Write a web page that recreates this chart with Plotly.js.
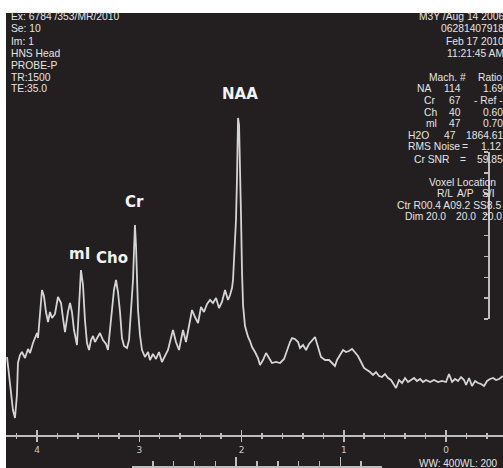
<!DOCTYPE html>
<html><head><meta charset="utf-8">
<script src="https://cdn.plot.ly/plotly-3.0.1.min.js"></script>
<style>html,body{margin:0;padding:0;background:#fff;}#chart{width:503px;height:468px;}</style>
</head><body><div id="chart"></div>
<script>
// Spectrum: chemical shift (ppm) and signal height (a.u.)
const ppm = [
4.293, 4.264, 4.235, 4.215, 4.196, 4.186, 4.166, 4.147, 4.117, 4.088,
4.068, 4.039, 4.020, 4.000, 3.990, 3.971, 3.951, 3.932, 3.912, 3.892,
3.873, 3.853, 3.824, 3.795, 3.765, 3.746, 3.726, 3.697, 3.677, 3.658,
3.638, 3.609, 3.589, 3.570, 3.550, 3.531, 3.511, 3.491, 3.472, 3.452,
3.433, 3.413, 3.384, 3.355, 3.325, 3.306, 3.276, 3.247, 3.227, 3.208,
3.188, 3.169, 3.149, 3.120, 3.100, 3.081, 3.061, 3.051, 3.042, 3.032,
3.022, 3.012, 2.993, 2.973, 2.944, 2.914, 2.895, 2.866, 2.836, 2.807,
2.778, 2.748, 2.719, 2.690, 2.670, 2.641, 2.611, 2.592, 2.572, 2.543,
2.513, 2.484, 2.455, 2.425, 2.396, 2.367, 2.337, 2.308, 2.279, 2.249,
2.220, 2.191, 2.161, 2.132, 2.112, 2.093, 2.083, 2.073, 2.064, 2.054,
2.044, 2.034, 2.024, 2.015, 2.005, 1.995, 1.985, 1.966, 1.936, 1.917,
1.897, 1.868, 1.839, 1.819, 1.790, 1.760, 1.731, 1.702, 1.663, 1.623,
1.584, 1.555, 1.526, 1.506, 1.477, 1.447, 1.428, 1.398, 1.369, 1.340,
1.311, 1.281, 1.252, 1.223, 1.183, 1.144, 1.115, 1.086, 1.066, 1.037,
1.007, 0.978, 0.949, 0.919, 0.890, 0.861, 0.831, 0.802, 0.773, 0.743,
0.714, 0.685, 0.655, 0.626, 0.597, 0.567, 0.538, 0.509, 0.489, 0.460,
0.430, 0.401, 0.372, 0.342, 0.313, 0.284, 0.254, 0.225, 0.196, 0.156,
0.117, 0.078, 0.039, 0.000, -0.029, -0.059, -0.088, -0.117, -0.147, -0.176,
-0.196, -0.225, -0.254, -0.284, -0.313, -0.342, -0.372, -0.401, -0.430, -0.460,
-0.489, -0.518, -0.557
];
const intensity = [
78, 50, 25, 17, 40, 72, 80, 83, 77, 86,
82, 92, 97, 102, 97, 120, 145, 139, 123, 113,
123, 117, 121, 138, 132, 117, 103, 123, 132, 123,
105, 90, 135, 165, 150, 115, 92, 85, 95, 99,
93, 97, 102, 95, 91, 85, 115, 145, 155, 143,
123, 97, 89, 87, 95, 120, 155, 185, 210, 190,
150, 125, 100, 85, 78, 83, 75, 81, 76, 83,
73, 79, 85, 97, 105, 93, 85, 95, 105, 93,
110, 125, 118, 112, 128, 123, 131, 135, 132, 137,
127, 133, 145, 135, 140, 147, 155, 173, 190, 215,
257, 317, 310, 275, 220, 163, 130, 109, 98, 94,
88, 83, 77, 70, 75, 82, 77, 72, 73, 72,
76, 85, 93, 97, 96, 93, 87, 90, 85, 91,
94, 98, 88, 78, 75, 75, 72, 69, 75, 80,
85, 83, 84, 86, 83, 79, 73, 67, 65, 63,
60, 63, 59, 58, 61, 57, 55, 51, 47, 55,
52, 57, 53, 55, 57, 54, 56, 53, 55, 53,
55, 53, 54, 53, 61, 53, 56, 54, 58, 55,
50, 57, 49, 54, 52, 51, 49, 54, 56, 57,
55, 56, 59
];
const peakLabels = ['mI', 'Cho', 'Cr', 'NAA'];
const peakLabelPpm = [3.589, 3.266, 3.042, 2.015];
const peakLabelHeight = [181, 177, 233, 341];
const ppmTicks = [4, 3, 2, 1, 0];
const headerLeft = ['Ex: 6784 /353/MR/2010', 'Se: 10', 'Im: 1', 'HNS Head', 'PROBE-P', 'TR:1500', 'TE:35.0'];
const headerRight = ['M3Y /Aug 14 2006', '06281407918', 'Feb 17 2010', '11:21:45 AM'];
const metabNames = ['NA', 'Cr', 'Ch', 'ml', 'H2O'];
const machValues = ['114', '67', '40', '47', '47'];
const ratioValues = ['1.69', '- Ref -', '0.60', '0.70', '1864.61'];
const voxelHead = ['R/L', 'A/P', 'S/I'];
const voxelDim = ['20.0', '20.0', '20.0'];

// ---- layout helpers (pixel -> paper) ----
const W = 503, H = 468, L = 6, T = 13;
const PW = W - L, PH = H - T;
const px = x => (x - L) / PW;
const py = y => (H - y) / PH;
const BG = '#231f20', FG = '#e4e4e4', AX = '#bdbdbd';
const infoFont = {family: 'Liberation Sans, Arial, sans-serif', size: 10.3, color: FG};

const ann = [];
function txt(text, x, y, anchor, font) {
  ann.push({text: text, x: px(x), y: py(y), xref: 'paper', yref: 'paper', xanchor: anchor, yanchor: 'middle',
    showarrow: false, font: font || infoFont, borderpad: 0});
}
headerLeft.forEach((t, i) => txt(t, 10, 17 + i * 12, 'left'));
headerRight.forEach((t, i) => txt(t, 505, 17 + i * 12, 'right'));
txt('Mach. #', 467, 77, 'right'); txt('Ratio', 503, 77, 'right');
const rowY = [89, 100, 112, 123, 135];
const nameX = [416, 423, 423, 425, 407];
const machX = [462, 462, 462, 462, 457];
metabNames.forEach((t, i) => {
  txt(t, nameX[i], rowY[i], 'left');
  txt(machValues[i], machX[i], rowY[i], 'right');
  txt(ratioValues[i], 504, rowY[i], 'right');
});
txt('RMS Noise', 407, 147, 'left'); txt('=', 465, 147, 'center'); txt('1.12', 502, 147, 'right');
txt('Cr SNR', 413, 159, 'left'); txt('=', 463, 159, 'center'); txt('59.85', 504, 159, 'right');
txt('Voxel Location', 462, 182, 'center');
[445, 465, 488].forEach((x, i) => txt(voxelHead[i], x, 193, 'center'));
txt('Ctr R00.4 A09.2 SS8.5', 502, 205, 'right');
txt('Dim', 404, 217, 'left');
[436, 466, 503].forEach((x, i) => txt(voxelDim[i], x, 217, i === 2 ? 'right' : 'center'));
txt('WW: 400WL: 200', 418, 463, 'left', {family: infoFont.family, size: 10, color: FG});

peakLabels.forEach((t, i) => ann.push({text: t, x: peakLabelPpm[i], y: peakLabelHeight[i], xref: 'x', yref: 'y',
  showarrow: false, font: {family: 'DejaVu Sans, sans-serif', size: 15, color: '#f2f2f2', weight: 'bold'}}));

const xr = [4.303, -0.557];
const traces = [
  {x: ppm, y: intensity, type: 'scatter', mode: 'lines', line: {color: '#d4d4d4', width: 1.8},
   hoverinfo: 'x+y', showlegend: false},
  {x: [null], y: [null], xaxis: 'x2', yaxis: 'y', mode: 'lines', showlegend: false, hoverinfo: 'skip'},
  {x: [null], y: [null], xaxis: 'x', yaxis: 'y2', mode: 'lines', showlegend: false, hoverinfo: 'skip'},
  {x: [null], y: [null], xaxis: 'x3', yaxis: 'y', mode: 'lines', showlegend: false, hoverinfo: 'skip'}
];

const layout = {
  width: W, height: H,
  margin: {l: L, r: 0, t: T, b: 0, pad: 0},
  paper_bgcolor: BG, plot_bgcolor: 'rgba(0,0,0,0)',
  showlegend: false,
  xaxis: {domain: [0, 1], anchor: 'y', range: xr, showline: true, linecolor: AX, linewidth: 2,
    ticks: 'outside', ticklen: 5, tickwidth: 1.5, tickcolor: AX, tickvals: ppmTicks,
    tickfont: {family: 'DejaVu Sans, sans-serif', size: 9, color: '#c8c8c8'},
    minor: {dtick: 0.2, tick0: 0, ticks: 'outside', ticklen: 2, tickwidth: 1.5, tickcolor: AX, showgrid: false},
    showgrid: false, zeroline: false, fixedrange: true},
  xaxis2: {overlaying: 'x', anchor: 'y', side: 'bottom', range: xr, showline: false,
    ticks: 'inside', ticklen: 5, tickwidth: 1.5, tickcolor: AX, tickvals: ppmTicks, showticklabels: false,
    minor: {dtick: 0.2, tick0: 0, ticks: 'inside', ticklen: 2, tickwidth: 1.5, tickcolor: AX, showgrid: false},
    showgrid: false, zeroline: false, fixedrange: true},
  xaxis3: {domain: [px(132), px(382)], anchor: 'free', position: py(466), range: [0, 12],
    showline: true, linecolor: AX, linewidth: 1.5, ticks: 'inside', tick0: 0, dtick: 5, ticklen: 9,
    tickwidth: 1.5, tickcolor: AX, showticklabels: false,
    minor: {dtick: 1, ticks: 'inside', ticklen: 5, tickwidth: 1.5, tickcolor: AX, showgrid: false},
    showgrid: false, zeroline: false, fixedrange: true},
  yaxis: {domain: [py(435), 1], range: [0, 422], visible: false, fixedrange: true},
  yaxis2: {domain: [py(319), py(152)], anchor: 'free', position: px(488), side: 'left', range: [0, 8],
    dtick: 1, ticks: 'outside', ticklen: 4, tickwidth: 1.5, tickcolor: AX, showline: true, linecolor: AX,
    linewidth: 1.5, showticklabels: false, showgrid: false, zeroline: false, fixedrange: true},
  shapes: [
    {type: 'rect', xref: 'paper', yref: 'paper', x0: -0.05, x1: 0, y0: -0.05, y1: 1.1, fillcolor: '#ffffff', line: {width: 0}},
    {type: 'rect', xref: 'paper', yref: 'paper', x0: -0.05, x1: 1.05, y0: 1, y1: 1.1, fillcolor: '#ffffff', line: {width: 0}}
  ],
  annotations: ann
};
Plotly.newPlot('chart', traces, layout, {displayModeBar: false, staticPlot: true});
</script></body></html>
